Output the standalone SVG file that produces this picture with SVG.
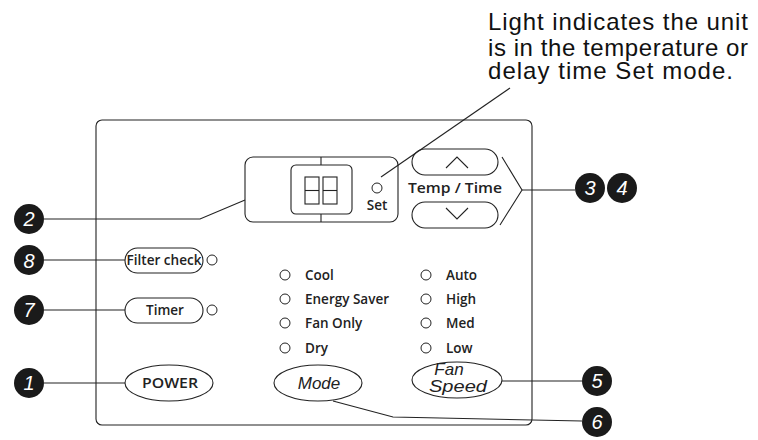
<svg xmlns="http://www.w3.org/2000/svg" width="758" height="440" viewBox="0 0 758 440">
<style>
.ln{fill:none;stroke:#222;stroke-width:1.1}
.bx{fill:#fff;stroke:#222;stroke-width:1.1}
.led{fill:#fff;stroke:#222;stroke-width:1}
.badge{fill:#1a1a1a}
.bn{font-family:"Liberation Sans",Arial,sans-serif;font-style:italic;font-size:20px;fill:#fff;text-anchor:middle}
.lb{font-family:"Open Sans","Noto Sans",sans-serif;font-weight:600;font-size:13.5px;fill:#222}
.it{font-family:"Liberation Sans",Arial,sans-serif;font-style:italic;font-size:17px;fill:#222;text-anchor:middle}
.note{font-family:"Liberation Sans",Arial,sans-serif;font-size:24px;fill:#111}
</style>
<rect width="758" height="440" fill="#fff"/>

<g id="panel">
<rect class="bx" x="96" y="120" width="436" height="305" rx="6"/>
</g>

<g id="note">
<text class="note" x="488" y="30" textLength="260" lengthAdjust="spacing">Light indicates the unit</text>
<text class="note" x="488" y="56" textLength="260" lengthAdjust="spacing">is in the temperature or</text>
<text class="note" x="488" y="79" textLength="245" lengthAdjust="spacing">delay time Set  mode.</text>
</g>

<g id="display">
<rect class="bx" x="245" y="157" width="153" height="65" rx="8"/>
<line class="ln" x1="321" y1="157" x2="321" y2="165"/>
<line class="ln" x1="321" y1="214" x2="321" y2="222"/>
<rect class="bx" x="291" y="165" width="61" height="49" rx="5"/>
<rect class="ln" x="305" y="177" width="14" height="27"/>
<line class="ln" x1="305" y1="190.5" x2="319" y2="190.5"/>
<rect class="ln" x="323" y="177" width="14" height="27"/>
<line class="ln" x1="323" y1="190.5" x2="337" y2="190.5"/>
<circle class="led" cx="377" cy="188" r="5"/>
<text class="lb" x="377" y="210" font-size="10.5" text-anchor="middle" font-weight="700">Set</text>
</g>

<g id="temp-time">
<rect class="bx" x="412" y="149" width="86" height="26" rx="13"/>
<polyline class="ln" points="446,168 457,157 468,168"/>
<text class="lb" x="455" y="193" font-size="15" text-anchor="middle" textLength="94" lengthAdjust="spacingAndGlyphs">Temp / Time</text>
<rect class="bx" x="412" y="202" width="86" height="26" rx="13"/>
<polyline class="ln" points="446,208 457,219 468,208"/>
</g>

<g id="filter-check">
<rect class="bx" x="125" y="248" width="78" height="25" rx="12.5"/>
<text class="lb" x="164" y="265" font-size="12.5" text-anchor="middle" textLength="75" lengthAdjust="spacingAndGlyphs">Filter check</text>
<circle class="led" cx="212" cy="260" r="5"/>
</g>

<g id="timer">
<rect class="bx" x="125" y="298" width="78" height="25" rx="12.5"/>
<text class="lb" x="165" y="315" font-size="12.5" text-anchor="middle">Timer</text>
<circle class="led" cx="212" cy="310" r="5"/>
</g>

<g id="mode-leds">
<circle class="led" cx="285" cy="275" r="5"/><text class="lb" x="305" y="280">Cool</text>
<circle class="led" cx="285" cy="299" r="5"/><text class="lb" x="305" y="304">Energy Saver</text>
<circle class="led" cx="285" cy="323" r="5"/><text class="lb" x="305" y="328">Fan Only</text>
<circle class="led" cx="285" cy="348" r="5"/><text class="lb" x="305" y="353">Dry</text>
</g>

<g id="fan-leds">
<circle class="led" cx="426" cy="275" r="5"/><text class="lb" x="446" y="280">Auto</text>
<circle class="led" cx="426" cy="299" r="5"/><text class="lb" x="446" y="304">High</text>
<circle class="led" cx="426" cy="323" r="5"/><text class="lb" x="446" y="328">Med</text>
<circle class="led" cx="426" cy="348" r="5"/><text class="lb" x="446" y="353">Low</text>
</g>

<g id="power">
<ellipse class="bx" cx="169" cy="383" rx="44" ry="18"/>
<text class="lb" x="170" y="388" font-size="14.5" text-anchor="middle" textLength="56" lengthAdjust="spacingAndGlyphs">POWER</text>
</g>

<g id="mode">
<ellipse class="bx" cx="318" cy="383" rx="44" ry="18"/>
<text class="it" x="319" y="389">Mode</text>
</g>

<g id="fan-speed">
<ellipse class="bx" cx="457" cy="380" rx="45" ry="18"/>
<text class="it" x="449" y="375" font-size="15.5">Fan</text>
<text class="it" x="458" y="392" font-size="16" textLength="58" lengthAdjust="spacingAndGlyphs">Speed</text>
</g>

<g id="connectors">
<polyline class="ln" points="44,219 200,219 245,200"/>
<line class="ln" x1="44" y1="260" x2="125" y2="260"/>
<line class="ln" x1="44" y1="310" x2="125" y2="310"/>
<line class="ln" x1="44" y1="383" x2="125" y2="383"/>
<line class="ln" x1="502" y1="381" x2="582" y2="381"/>
<path class="ln" d="M333,401 L393,417 L582,421"/>
<polyline class="ln" points="502,157 522,190 500,225"/>
<line class="ln" x1="522" y1="190" x2="575" y2="190"/>
<line class="ln" x1="381" y1="177" x2="510" y2="88"/>
</g>

<g id="badge-2"><circle class="badge" cx="29" cy="219" r="15"/><text class="bn" x="29" y="226">2</text></g>
<g id="badge-8"><circle class="badge" cx="29" cy="260" r="15"/><text class="bn" x="29" y="268" font-style="normal" font-size="22">8</text></g>
<g id="badge-7"><circle class="badge" cx="29" cy="310" r="15"/><text class="bn" x="29" y="317">7</text></g>
<g id="badge-1"><circle class="badge" cx="29" cy="383" r="15"/><text class="bn" x="29" y="390">1</text></g>
<g id="badge-3"><circle class="badge" cx="590" cy="188" r="15"/><text class="bn" x="590" y="195">3</text></g>
<g id="badge-4"><circle class="badge" cx="622" cy="188" r="15"/><text class="bn" x="622" y="195">4</text></g>
<g id="badge-5"><circle class="badge" cx="597" cy="381" r="15"/><text class="bn" x="597" y="388">5</text></g>
<g id="badge-6"><circle class="badge" cx="597" cy="422" r="15"/><text class="bn" x="597" y="429">6</text></g>
</svg>
